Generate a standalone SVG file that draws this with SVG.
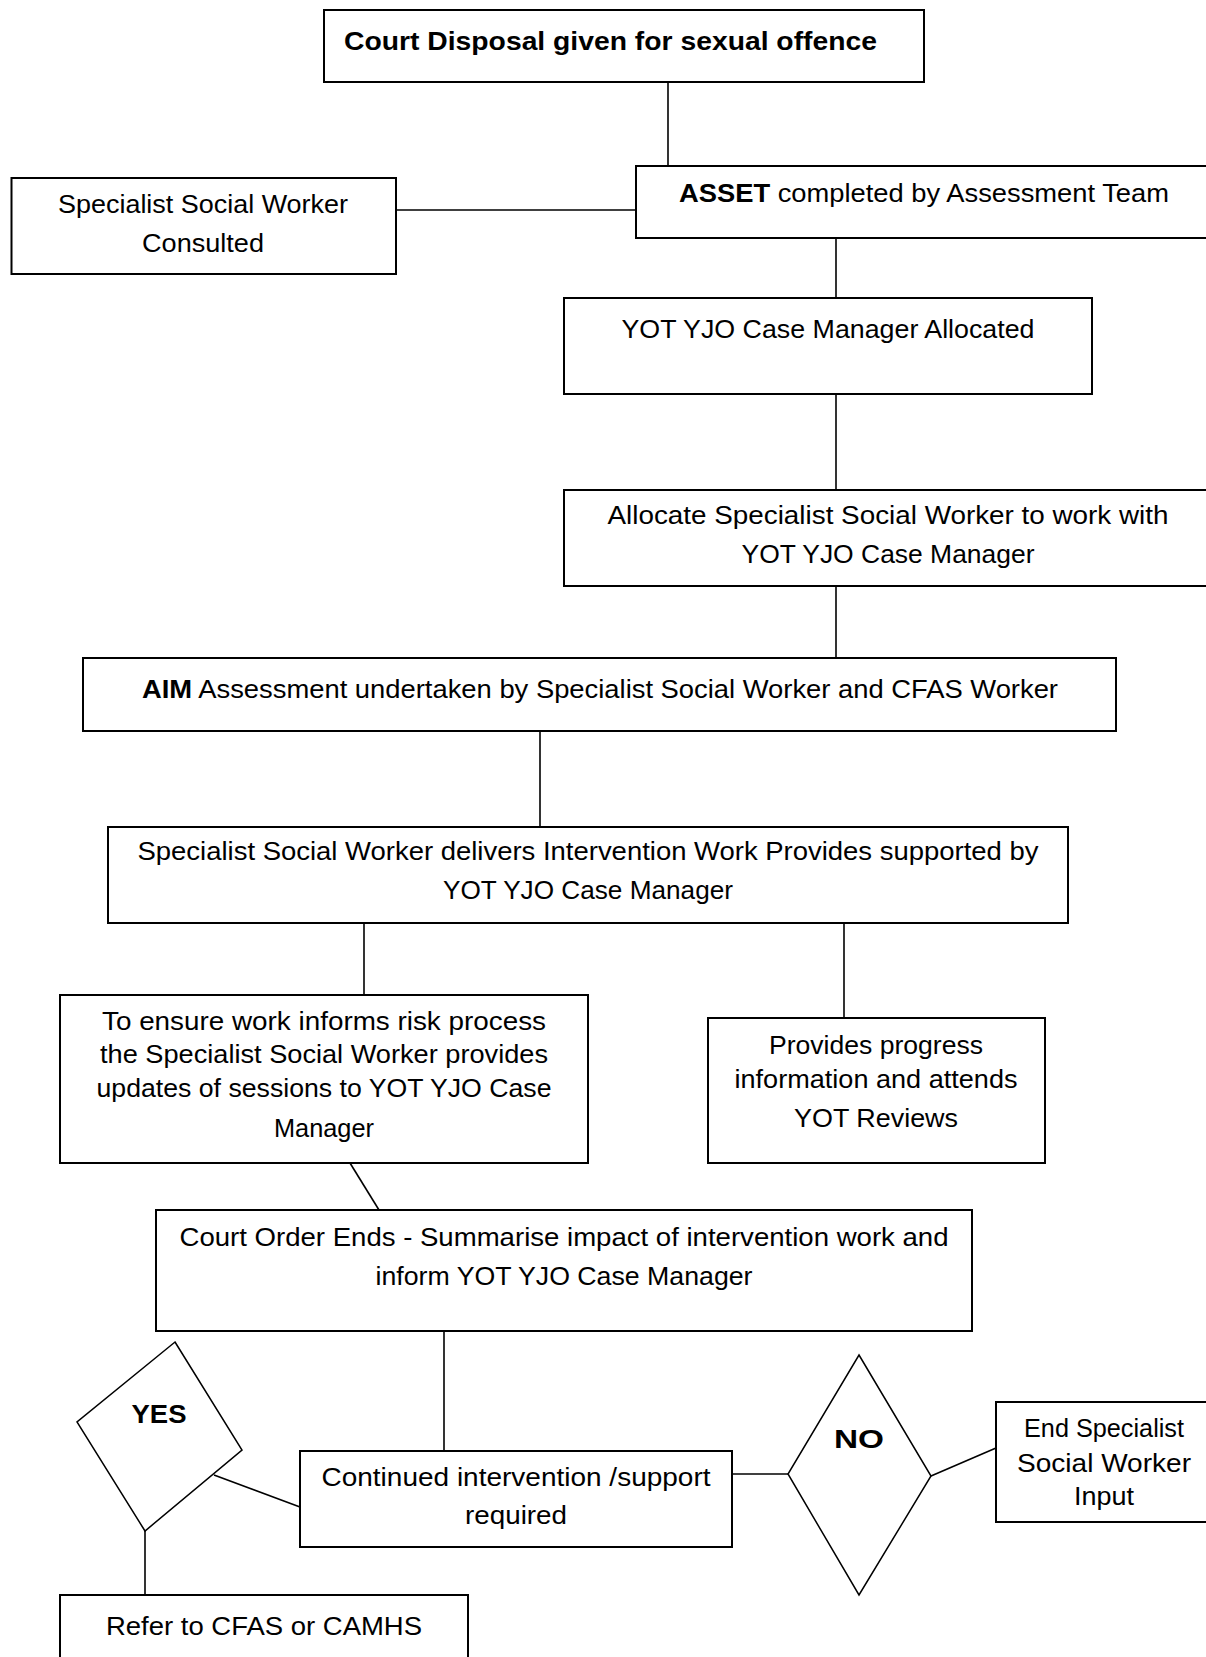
<svg xmlns="http://www.w3.org/2000/svg" width="1206" height="1657" viewBox="0 0 1206 1657">
<style>
.box{fill:#fff;stroke:#000;stroke-width:2}
.dia{fill:#fff;stroke:#000;stroke-width:1.5}
.con line{stroke:#000;stroke-width:1.6}
text{font-family:"Liberation Sans",Arial,sans-serif;font-size:26px;fill:#000}
.c{text-anchor:middle}
.b{font-weight:bold}
</style>
<rect width="1206" height="1657" fill="#fff"/>
<g id="connectors" class="con">
<line x1="668" y1="82" x2="668" y2="166"/>
<line x1="396" y1="210" x2="636" y2="210"/>
<line x1="836" y1="238" x2="836" y2="298"/>
<line x1="836" y1="394" x2="836" y2="490"/>
<line x1="836" y1="586" x2="836" y2="658"/>
<line x1="540" y1="731" x2="540" y2="827"/>
<line x1="364" y1="923" x2="364" y2="995"/>
<line x1="844" y1="923" x2="844" y2="1018"/>
<line x1="350" y1="1163" x2="379" y2="1210"/>
<line x1="444" y1="1331" x2="444" y2="1451"/>
<line x1="214" y1="1475" x2="300" y2="1507"/>
<line x1="145" y1="1531" x2="145" y2="1595"/>
<line x1="732" y1="1474" x2="788" y2="1474"/>
<line x1="931" y1="1476" x2="996" y2="1448"/>
</g>
<g id="n1">
<rect class="box" x="324" y="10" width="600" height="72"/>
<text class="b" x="344" y="50" font-size="27" textLength="533" lengthAdjust="spacingAndGlyphs">Court Disposal given for sexual offence</text>
</g>
<g id="n2">
<rect class="box" x="636" y="166" width="580" height="72"/>
<text x="679" y="202" textLength="490" lengthAdjust="spacingAndGlyphs"><tspan class="b">ASSET</tspan> completed by Assessment Team</text>
</g>
<g id="n3">
<rect class="box" x="11.5" y="178" width="384.5" height="96"/>
<text class="c" x="203" y="213" textLength="290" lengthAdjust="spacingAndGlyphs">Specialist Social Worker</text>
<text class="c" x="203" y="252" textLength="122" lengthAdjust="spacingAndGlyphs">Consulted</text>
</g>
<g id="n4">
<rect class="box" x="564" y="298" width="528" height="96"/>
<text class="c" x="828" y="338" textLength="413" lengthAdjust="spacingAndGlyphs">YOT YJO Case Manager Allocated</text>
</g>
<g id="n5">
<rect class="box" x="564" y="490" width="652" height="96"/>
<text class="c" x="888" y="524" textLength="561" lengthAdjust="spacingAndGlyphs">Allocate Specialist Social Worker to work with</text>
<text class="c" x="888" y="563" textLength="293" lengthAdjust="spacingAndGlyphs">YOT YJO Case Manager</text>
</g>
<g id="n6">
<rect class="box" x="83" y="658" width="1033" height="73"/>
<text class="c" x="600" y="698" textLength="916" lengthAdjust="spacingAndGlyphs"><tspan class="b">AIM</tspan> Assessment undertaken by Specialist Social Worker and CFAS Worker</text>
</g>
<g id="n7">
<rect class="box" x="108" y="827" width="960" height="96"/>
<text class="c" x="588" y="860" textLength="901" lengthAdjust="spacingAndGlyphs">Specialist Social Worker delivers Intervention Work Provides supported by</text>
<text class="c" x="588" y="899" textLength="290" lengthAdjust="spacingAndGlyphs">YOT YJO Case Manager</text>
</g>
<g id="n8">
<rect class="box" x="60" y="995" width="528" height="168"/>
<text class="c" x="324" y="1030" textLength="444" lengthAdjust="spacingAndGlyphs">To ensure work informs risk process</text>
<text class="c" x="324" y="1063" textLength="448" lengthAdjust="spacingAndGlyphs">the Specialist Social Worker provides</text>
<text class="c" x="324" y="1097" textLength="455" lengthAdjust="spacingAndGlyphs">updates of sessions to YOT YJO Case</text>
<text class="c" x="324" y="1137" textLength="100" lengthAdjust="spacingAndGlyphs">Manager</text>
</g>
<g id="n9">
<rect class="box" x="708" y="1018" width="337" height="145"/>
<text class="c" x="876" y="1054" textLength="214" lengthAdjust="spacingAndGlyphs">Provides progress</text>
<text class="c" x="876" y="1088" textLength="283" lengthAdjust="spacingAndGlyphs">information and attends</text>
<text class="c" x="876" y="1127" textLength="164" lengthAdjust="spacingAndGlyphs">YOT Reviews</text>
</g>
<g id="n10">
<rect class="box" x="156" y="1210" width="816" height="121"/>
<text class="c" x="564" y="1246" textLength="769" lengthAdjust="spacingAndGlyphs">Court Order Ends - Summarise impact of intervention work and</text>
<text class="c" x="564" y="1285" textLength="377" lengthAdjust="spacingAndGlyphs">inform YOT YJO Case Manager</text>
</g>
<g id="n11">
<rect class="box" x="300" y="1451" width="432" height="96"/>
<text class="c" x="516" y="1486" textLength="389" lengthAdjust="spacingAndGlyphs">Continued intervention /support</text>
<text class="c" x="516" y="1524" textLength="102" lengthAdjust="spacingAndGlyphs">required</text>
</g>
<g id="n12">
<polygon class="dia" points="175,1342 242,1450 145,1531 77,1422"/>
<text class="c b" x="159" y="1423" textLength="55" lengthAdjust="spacingAndGlyphs">YES</text>
</g>
<g id="n13">
<polygon class="dia" points="859,1355 931,1476 859,1595 788,1474"/>
<text class="c b" x="859" y="1448" textLength="50" lengthAdjust="spacingAndGlyphs">NO</text>
</g>
<g id="n14">
<rect class="box" x="996" y="1402" width="220" height="120"/>
<text class="c" x="1104" y="1437" textLength="160" lengthAdjust="spacingAndGlyphs">End Specialist</text>
<text class="c" x="1104" y="1472" textLength="174" lengthAdjust="spacingAndGlyphs">Social Worker</text>
<text class="c" x="1104" y="1505" textLength="60" lengthAdjust="spacingAndGlyphs">Input</text>
</g>
<g id="n15">
<rect class="box" x="60" y="1595" width="408" height="80"/>
<text class="c" x="264" y="1635" textLength="316" lengthAdjust="spacingAndGlyphs">Refer to CFAS or CAMHS</text>
</g>
</svg>
